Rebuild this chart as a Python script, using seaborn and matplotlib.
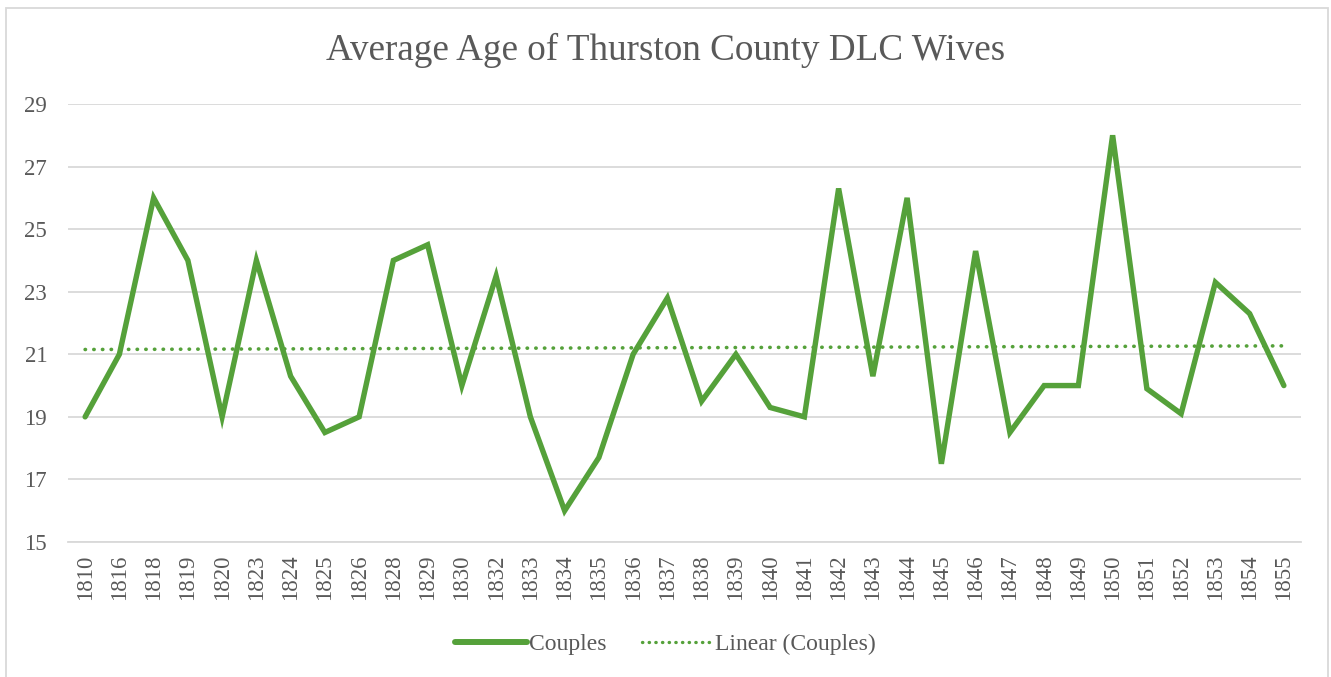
import numpy as np
import pandas as pd
import matplotlib
matplotlib.use('Agg')
import matplotlib.pyplot as plt
import seaborn as sns
from matplotlib.lines import Line2D
from matplotlib.patches import Rectangle

# ---------------------------------------------------------------------
# data
# ---------------------------------------------------------------------
years = ['1810', '1816', '1818', '1819', '1820', '1823', '1824', '1825', '1826',
         '1828', '1829', '1830', '1832', '1833', '1834', '1835', '1836', '1837',
         '1838', '1839', '1840', '1841', '1842', '1843', '1844', '1845', '1846',
         '1847', '1848', '1849', '1850', '1851', '1852', '1853', '1854', '1855']
ages = [19.0, 21.0, 26.0, 24.0, 19.0, 24.0, 20.3, 18.5, 19.0,
        24.0, 24.5, 20.0, 23.5, 19.0, 16.0, 17.7, 21.0, 22.8,
        19.5, 21.0, 19.3, 19.0, 26.3, 20.3, 26.0, 17.5, 24.3,
        18.5, 20.0, 20.0, 28.0, 19.9, 19.1, 23.3, 22.3, 20.0]
y_ticks = [15, 17, 19, 21, 23, 25, 27, 29]

title = "Average Age of Thurston County DLC Wives"
series_name = "Couples"
trend_name = "Linear (Couples)"

df = pd.DataFrame({'pos': np.arange(len(years)), 'Year': years, 'Age': ages})

# ---------------------------------------------------------------------
# style
# ---------------------------------------------------------------------
sns.set_theme(style="white")
plt.rcParams['font.family'] = ['Liberation Serif', 'DejaVu Serif']
green = '#55a13a'
gray_txt = '#595959'
grid_c = '#d9d9d9'
dots = (0, (0.1, 2.3))

fig = plt.figure(figsize=(13.31, 6.77), dpi=100)
ax = fig.add_axes([68 / 1331, 1 - 542 / 677, 1233 / 1331, 438 / 677])

sns.lineplot(data=df, x='pos', y='Age', ax=ax, color=green, linewidth=3.9,
             solid_joinstyle='miter', solid_capstyle='round')
# linear trendline through the same points
sns.regplot(data=df, x='pos', y='Age', ax=ax, scatter=False, ci=None,
            line_kws=dict(color=green, linewidth=2.6, linestyle=dots,
                          dash_capstyle='round'))

ax.set_xlim(-0.5, len(years) - 0.5)
ax.set_ylim(15, 29)
ax.set_yticks(y_ticks)
ax.set_xticks(df['pos'])
ax.set_xticklabels(years, rotation=90)
ax.set_xlabel('')
ax.set_ylabel('')
ax.tick_params(axis='both', length=0, labelsize=16.5, labelcolor=gray_txt)
ax.tick_params(axis='x', pad=9)
ax.tick_params(axis='y', pad=15)
ax.grid(axis='y', color=grid_c, linewidth=1.3)
ax.set_axisbelow(True)
for s in ['top', 'right', 'left']:
    ax.spines[s].set_visible(False)
ax.spines['bottom'].set_color(grid_c)
ax.spines['bottom'].set_linewidth(1.3)

fig.text(0.5, 1 - 50 / 677, title, ha='center', va='center',
         fontsize=26.7, color=gray_txt)

handles = [Line2D([], [], color=green, linewidth=4.3, solid_capstyle='round'),
           Line2D([], [], color=green, linewidth=2.4, linestyle=(0, (0.1, 1.9)),
                  dash_capstyle='round')]
fig.legend(handles, [series_name, trend_name], loc='center',
           bbox_to_anchor=(0.5, 1 - 644 / 677), ncol=2, frameon=False,
           fontsize=17, labelcolor=gray_txt, handlelength=3.05,
           handletextpad=0.05, columnspacing=1.5)

# chart border
fig.patches.append(Rectangle((6 / 1331, -0.05), 1322 / 1331, 1.05 - 8 / 677,
                             transform=fig.transFigure, fill=False,
                             edgecolor=grid_c, linewidth=1.3))

fig.savefig('out.png', dpi=100, facecolor='white')
